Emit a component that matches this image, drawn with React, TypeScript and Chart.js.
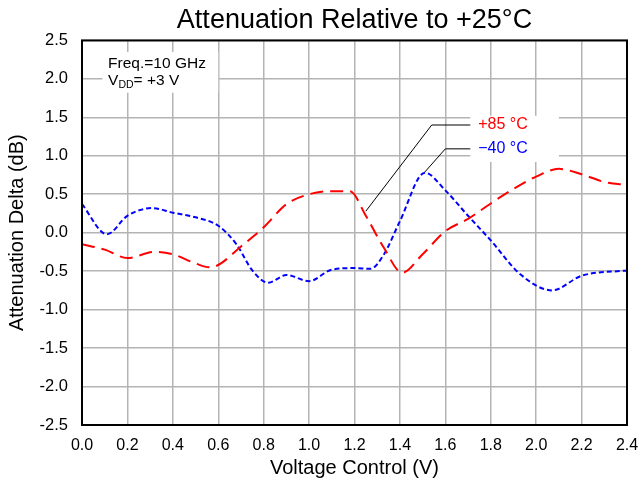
import React, { useEffect, useRef } from "react";
import { Chart, registerables } from "chart.js";

Chart.register(...registerables);

const FONT = "'Liberation Sans', Arial, sans-serif";

const TITLE = "Attenuation Relative to +25°C";
const X_TITLE = "Voltage Control (V)";
const Y_TITLE = "Attenuation Delta (dB)";

const RED_LABEL = "+85 °C";
const BLUE_LABEL = "\u221240 °C";

const RED_X = [0, 0.1, 0.2, 0.32, 0.4, 0.5, 0.56, 0.6, 0.7, 0.8, 0.9, 1.0, 1.1, 1.18, 1.25, 1.33, 1.41, 1.5, 1.6, 1.7, 1.8, 1.9, 2.0, 2.1, 2.2, 2.3, 2.4];
const RED_Y = [-0.15, -0.22, -0.33, -0.25, -0.28, -0.4, -0.45, -0.42, -0.18, 0.07, 0.37, 0.5, 0.54, 0.54, 0.22, -0.2, -0.52, -0.28, 0.02, 0.18, 0.38, 0.57, 0.73, 0.83, 0.76, 0.66, 0.62];

const BLUE_X = [0, 0.11, 0.2, 0.31, 0.4, 0.5, 0.6, 0.68, 0.75, 0.82, 0.9, 1.0, 1.1, 1.2, 1.27, 1.33, 1.4, 1.51, 1.6, 1.7, 1.8, 1.93, 2.07, 2.2, 2.4];
const BLUE_Y = [0.37, -0.02, 0.22, 0.32, 0.26, 0.2, 0.09, -0.15, -0.49, -0.65, -0.55, -0.63, -0.48, -0.46, -0.47, -0.28, 0.15, 0.78, 0.55, 0.22, -0.1, -0.54, -0.75, -0.56, -0.49];

// annotation anchors in data units
const RED_LEADER = [[1.25, 0.28], [1.54, 1.4], [1.71, 1.4]];
const BLUE_LEADER = [[1.51, 0.79], [1.6, 1.09], [1.71, 1.09]];
const LABEL_X = 1.745;
const NOTE_BOX = [0.09, 2.35, 0.6, 1.82];
const LABEL_BOX = [1.71, 1.52, 2.1, 0.92];
const NOTE_X = 0.115;
const NOTE_Y1 = 2.2;
const NOTE_Y2 = 1.98;

const annotationPlugin = {
  id: "annot",
  beforeDatasetsDraw(chart: any) {
    const ctx = chart.ctx;
    const xs = chart.scales.x;
    const ys = chart.scales.y;
    const px = (v: number) => xs.getPixelForValue(v);
    const py = (v: number) => ys.getPixelForValue(v);
    ctx.save();
    ctx.fillStyle = "#ffffff";
    for (const b of [NOTE_BOX, LABEL_BOX]) {
      ctx.fillRect(px(b[0]), py(b[1]), px(b[2]) - px(b[0]), py(b[3]) - py(b[1]));
    }
    ctx.fillStyle = "#000000";
    ctx.textBaseline = "middle";
    ctx.textAlign = "left";
    ctx.font = `15.5px ${FONT}`;
    const nx = px(NOTE_X);
    ctx.fillText("Freq.=10 GHz", nx, py(NOTE_Y1));
    const y2 = py(NOTE_Y2);
    ctx.fillText("V", nx, y2);
    const vw = ctx.measureText("V").width;
    ctx.font = `10.5px ${FONT}`;
    ctx.fillText("DD", nx + vw, y2 + 5);
    const dw = ctx.measureText("DD").width;
    ctx.font = `15.5px ${FONT}`;
    ctx.fillText("= +3 V", nx + vw + dw, y2);
    ctx.strokeStyle = "#000000";
    ctx.lineWidth = 1;
    for (const pts of [RED_LEADER, BLUE_LEADER]) {
      ctx.beginPath();
      pts.forEach((p, i) => {
        if (i === 0) ctx.moveTo(px(p[0]), py(p[1]));
        else ctx.lineTo(px(p[0]), py(p[1]));
      });
      ctx.stroke();
    }
    ctx.font = `16px ${FONT}`;
    ctx.fillStyle = "#ff0000";
    ctx.fillText(RED_LABEL, px(LABEL_X), py(RED_LEADER[2][1]));
    ctx.fillStyle = "#0000ff";
    ctx.fillText(BLUE_LABEL, px(LABEL_X), py(BLUE_LEADER[2][1]));
    ctx.restore();
  },
  afterDraw(chart: any) {
    const { left, top, right, bottom } = chart.chartArea;
    const ctx = chart.ctx;
    ctx.save();
    ctx.strokeStyle = "#000000";
    ctx.lineWidth = 2;
    ctx.strokeRect(left, top, right - left, bottom - top);
    ctx.restore();
  },
};

export default function App() {
  const ref = useRef<HTMLCanvasElement>(null);
  useEffect(() => {
    document.body.style.margin = "0";
    const red = RED_X.map((x, i) => ({ x, y: RED_Y[i] }));
    const blue = BLUE_X.map((x, i) => ({ x, y: BLUE_Y[i] }));
    const chart = new Chart(ref.current!, {
      type: "scatter",
      data: {
        datasets: [
          {
            label: RED_LABEL,
            data: red,
            showLine: true,
            borderColor: "#ff0000",
            borderWidth: 2,
            borderDash: [13, 7],
            pointRadius: 0,
            cubicInterpolationMode: "monotone",
          },
          {
            label: BLUE_LABEL,
            data: blue,
            showLine: true,
            borderColor: "#0000ff",
            borderWidth: 2,
            borderDash: [5, 3],
            pointRadius: 0,
            cubicInterpolationMode: "monotone",
          },
        ],
      },
      options: {
        animation: false,
        responsive: false,
        devicePixelRatio: 1,
        layout: { padding: { left: 0, right: 12, top: 0, bottom: 0 } },
        plugins: {
          legend: { display: false },
          tooltip: { enabled: false },
          title: {
            display: true,
            text: TITLE,
            fullSize: false,
            color: "#000000",
            font: { family: FONT, size: 27, weight: "normal" },
            padding: { top: 4, bottom: 4 },
          },
        },
        scales: {
          x: {
            type: "linear",
            min: 0,
            max: 2.4,
            afterFit: (s: any) => {
              s.height = 55;
              s.paddingLeft = 0;
              s.paddingRight = 0;
            },
            ticks: {
              stepSize: 0.2,
              color: "#000000",
              padding: 11,
              maxRotation: 0,
              font: { family: FONT, size: 16 },
              callback: (v: any) => Number(v).toFixed(1),
            },
            grid: { color: "#b4b4b4", lineWidth: 1.5, drawTicks: false },
            border: { display: false },
            title: {
              display: true,
              text: X_TITLE,
              color: "#000000",
              font: { family: FONT, size: 20 },
              padding: { top: 0, bottom: 0 },
            },
          },
          y: {
            min: -2.5,
            max: 2.5,
            afterFit: (s: any) => {
              s.width = 82;
              s.paddingTop = 0;
              s.paddingBottom = 0;
            },
            ticks: {
              stepSize: 0.5,
              color: "#000000",
              padding: 14,
              font: { family: FONT, size: 16.5 },
              callback: (v: any) => Number(v).toFixed(1),
            },
            grid: { color: "#b4b4b4", lineWidth: 1.5, drawTicks: false },
            border: { display: false },
            title: {
              display: true,
              text: Y_TITLE,
              color: "#000000",
              font: { family: FONT, size: 20 },
              padding: { top: 5, bottom: 0 },
            },
          },
        },
      },
      plugins: [annotationPlugin],
    });
    return () => chart.destroy();
  }, []);
  return <canvas ref={ref} width={639} height={480} style={{ display: "block" }} />;
}
